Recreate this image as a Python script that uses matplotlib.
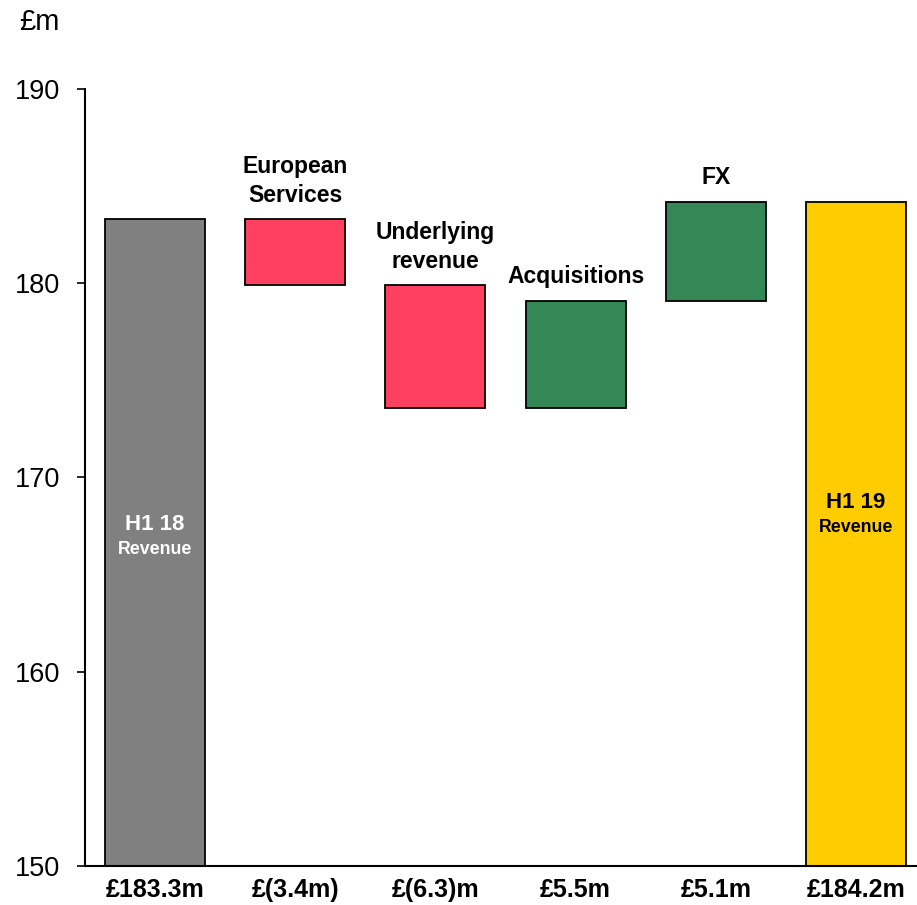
import matplotlib.pyplot as plt

plt.rcParams['font.family'] = ['Liberation Sans', 'DejaVu Sans']

# Data
steps = ["H1 18", "European Services", "Underlying revenue", "Acquisitions", "FX", "H1 19"]
start_value = 183.3
changes = [-3.4, -6.3, 5.5, 5.1]
end_value = 184.2
value_labels = ["£183.3m", "£(3.4m)", "£(6.3)m", "£5.5m", "£5.1m", "£184.2m"]
top_labels = ["", "European\nServices", "Underlying\nrevenue", "Acquisitions", "FX", ""]

GREY = "#808080"
RED = "#FF4060"
GREEN = "#338855"
GOLD = "#FFCC00"

# Waterfall: bottoms and heights
y_min = 150
bottoms, heights, colors = [y_min], [start_value - y_min], [GREY]
running = start_value
for c in changes:
    if c < 0:
        bottoms.append(running + c)
        heights.append(-c)
        colors.append(RED)
    else:
        bottoms.append(running)
        heights.append(c)
        colors.append(GREEN)
    running += c
bottoms.append(y_min)
heights.append(end_value - y_min)
colors.append(GOLD)

fig = plt.figure(figsize=(9.17, 9.05), dpi=100)
ax = fig.add_axes([0.0927, 0.0431, 0.9073, 0.8586])

x = list(range(len(steps)))
ax.bar(x, heights, bottom=bottoms, width=0.713, color=colors,
       edgecolor="black", linewidth=1.3)

# Labels above floating bars
for i, lab in enumerate(top_labels):
    if lab:
        ax.annotate(lab, (x[i], bottoms[i] + heights[i]), xytext=(0, 9),
                    textcoords="offset points", ha="center", va="bottom",
                    fontsize=16.5, fontweight="bold", linespacing=1.3)

# Labels inside end bars
ax.text(x[0], 167.6, "H1 18", ha="center", va="center", color="white",
        fontsize=16, fontweight="bold")
ax.text(x[0], 166.3, "Revenue", ha="center", va="center", color="white",
        fontsize=12.8, fontweight="bold")
ax.text(x[-1], 168.7, "H1 19", ha="center", va="center", color="black",
        fontsize=16, fontweight="bold")
ax.text(x[-1], 167.4, "Revenue", ha="center", va="center", color="black",
        fontsize=12.8, fontweight="bold")

ax.set_ylim(150, 190)
ax.set_xlim(-0.5, 5.435)
ax.set_yticks([150, 160, 170, 180, 190])
ax.set_xticks(x)
ax.set_xticklabels(value_labels, fontsize=18, fontweight="bold")
ax.tick_params(axis="x", length=0, pad=9)
ax.tick_params(axis="y", direction="out", length=6, width=1.2, pad=12, labelsize=19.5)

for s in ["top", "right"]:
    ax.spines[s].set_visible(False)
ax.spines["left"].set_linewidth(1.5)
ax.spines["bottom"].set_linewidth(1.5)

fig.text(0.021, 0.976, "£m", fontsize=21, ha="left", va="center")

fig.savefig("out.png", dpi=100)
